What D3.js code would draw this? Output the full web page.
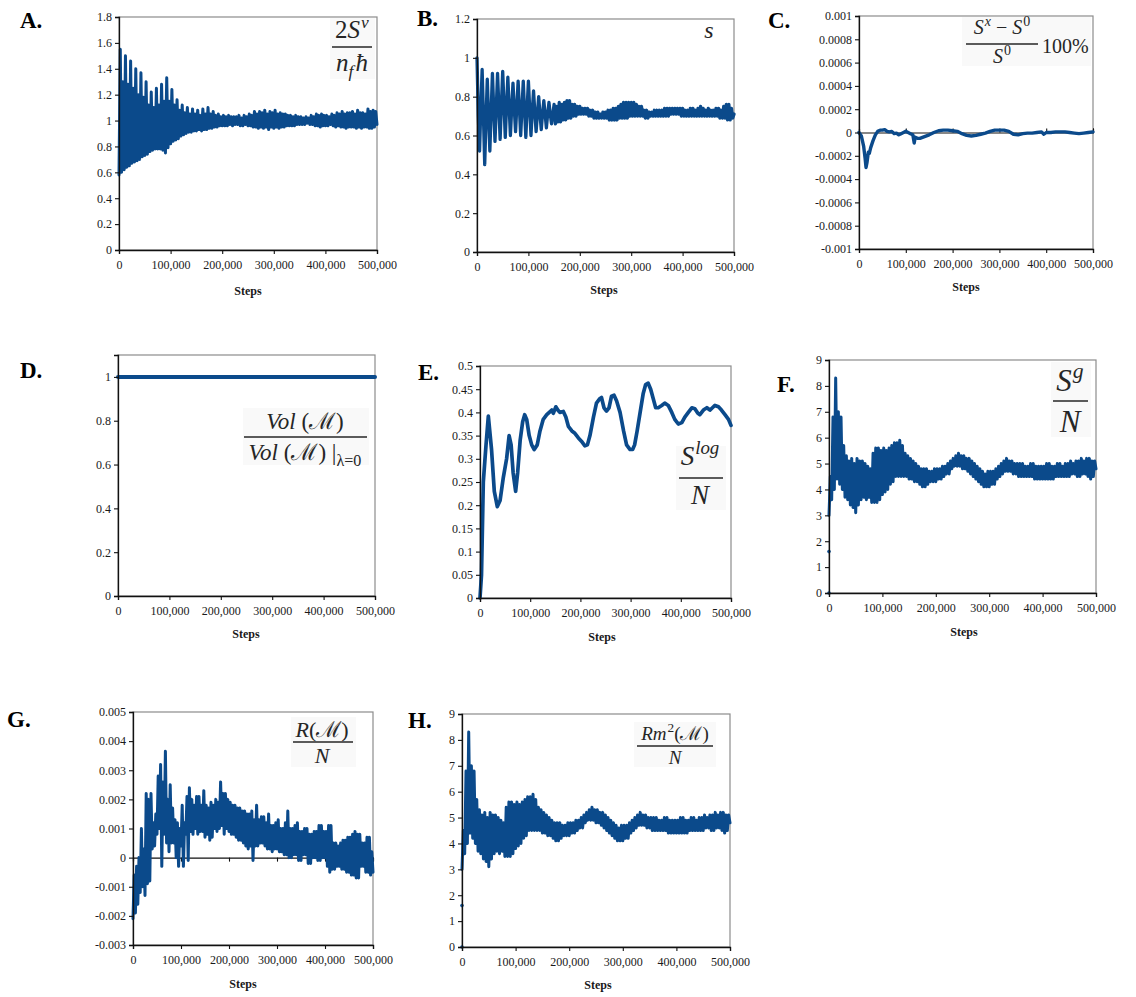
<!DOCTYPE html>
<html>
<head>
<meta charset="utf-8">
<script src="https://cdn.jsdelivr.net/npm/d3@7"></script>
<style>
body { margin: 0; background: #fff; }
</style>
</head>
<body>
<div id="chart-area"></div>
<script>
// ---- data ----
var stepGrid = d3.range(0, 500001, 2500);   // sampling of the oscillating runs
var xTicks = [0, 100000, 200000, 300000, 400000, 500000];

// A. 2S^v / (n_f hbar)
var svValues = [
  0.58,1.55,0.60,1.30, 0.62,1.50,0.64,1.28, 0.65,1.46,0.67,1.25, 0.68,1.40,0.69,1.20, 0.70,1.37,0.72,1.18,
  0.73,1.30,0.74,1.12, 0.76,1.22,0.77,1.10, 0.78,1.25,0.78,1.12, 0.78,1.28,0.77,1.15, 0.75,1.33,0.79,1.15,
  0.82,1.24,0.84,1.12, 0.85,1.16,0.86,1.08, 0.88,1.12,0.89,1.06, 0.90,1.10,0.91,1.05, 0.91,1.09,0.92,1.05,
  0.92,1.08,0.93,1.04, 0.92,1.09,0.93,1.05, 0.93,1.10,0.94,1.05, 0.94,1.07,0.95,1.04, 0.95,1.05,0.96,1.03,
  0.96,1.04,0.96,1.03, 0.96,1.04,0.97,1.03, 0.96,1.03,0.97,1.03, 0.97,1.04,0.96,1.02, 0.96,1.04,0.97,1.03,
  0.96,1.05,0.96,1.04, 0.95,1.07,0.95,1.05, 0.94,1.07,0.95,1.06, 0.94,1.08,0.95,1.05, 0.93,1.07,0.95,1.06,
  0.94,1.08,0.95,1.05, 0.94,1.06,0.95,1.05, 0.95,1.05,0.96,1.04, 0.96,1.04,0.96,1.03, 0.96,1.04,0.97,1.03,
  0.97,1.03,0.97,1.02, 0.97,1.03,0.98,1.02, 0.97,1.04,0.97,1.03, 0.96,1.05,0.96,1.04, 0.95,1.05,0.96,1.04,
  0.96,1.04,0.96,1.03, 0.97,1.05,0.96,1.04, 0.95,1.06,0.96,1.05, 0.95,1.07,0.95,1.05, 0.94,1.06,0.95,1.06,
  0.95,1.07,0.95,1.05, 0.94,1.08,0.95,1.06, 0.94,1.06,0.95,1.05, 0.95,1.09,0.94,1.07, 0.94,1.08,0.95,1.07,
  0.97];
var svTicks = [0, 0.2, 0.4, 0.6, 0.8, 1, 1.2, 1.4, 1.6, 1.8];

// B. s
var sValues = [
  1.00,0.70,0.52,0.75, 0.94,0.70,0.45,0.68, 0.89,0.70,0.52,0.72, 0.92,0.74,0.57,0.74, 0.92,0.75,0.58,0.76,
  0.93,0.76,0.59,0.75, 0.90,0.75,0.60,0.74, 0.87,0.74,0.62,0.75, 0.88,0.74,0.60,0.74, 0.88,0.73,0.59,0.74,
  0.88,0.74,0.60,0.72, 0.83,0.72,0.62,0.71, 0.80,0.71,0.63,0.71, 0.78,0.71,0.64,0.71, 0.77,0.71,0.66,0.71,
  0.76,0.66,0.75,0.67, 0.77,0.67,0.76,0.68, 0.77,0.68,0.78,0.69, 0.78,0.69,0.76,0.70, 0.76,0.70,0.75,0.71,
  0.75,0.71,0.74,0.71, 0.74,0.71,0.74,0.70, 0.73,0.70,0.73,0.69, 0.72,0.69,0.72,0.69, 0.71,0.69,0.72,0.69,
  0.72,0.69,0.73,0.68, 0.73,0.68,0.74,0.68, 0.74,0.68,0.75,0.69, 0.76,0.69,0.77,0.69, 0.77,0.69,0.77,0.70,
  0.77,0.70,0.77,0.70, 0.76,0.70,0.75,0.70, 0.75,0.70,0.73,0.69, 0.73,0.69,0.72,0.70, 0.72,0.70,0.73,0.70,
  0.73,0.70,0.73,0.70, 0.73,0.70,0.74,0.70, 0.74,0.70,0.74,0.71, 0.74,0.71,0.74,0.71, 0.74,0.71,0.74,0.70,
  0.74,0.70,0.73,0.70, 0.73,0.70,0.74,0.70, 0.74,0.70,0.73,0.70, 0.74,0.70,0.75,0.70, 0.74,0.70,0.73,0.70,
  0.74,0.70,0.73,0.70, 0.73,0.70,0.74,0.70, 0.74,0.69,0.73,0.69, 0.75,0.69,0.76,0.68, 0.76,0.68,0.74,0.69,
  0.71];
var sTicks = [0, 0.2, 0.4, 0.6, 0.8, 1, 1.2];

// C. (S^x - S^0)/S^0 100%
var cSteps = [0,5000,10000,13000,15000,17000,20000,22000,25000,30000,35000,40000,45000,50000,55000,60000,65000,70000,
  75000,80000,85000,90000,95000,100000,105000,110000,115000,118000,120000,125000,130000,140000,150000,160000,170000,
  180000,190000,200000,210000,220000,230000,240000,250000,260000,270000,280000,290000,300000,310000,320000,330000,
  340000,350000,360000,370000,380000,390000,395000,400000,410000,420000,430000,440000,450000,460000,470000,480000,
  490000,500000];
var cValues = [0,-0.00003,-0.00012,-0.00022,-0.0003,-0.00026,-0.00017,-0.00018,-0.00013,-0.00007,-0.00002,0.00001,
  0.00002,0.00002,0.000025,0.00001,0.000005,0.00001,-0.00001,-0.000005,-0.00002,-0.00001,0,0.00001,0,-0.00001,
  -0.00002,-0.00009,-0.00004,-0.00005,-0.00005,-0.000035,-0.00002,0,0.000015,0.00002,0.00002,0.000015,0.00001,
  -0.00001,-0.000025,-0.00003,-0.000025,-0.000015,-0.000005,0.00001,0.00002,0.00002,0.00002,0.00001,-0.000015,
  -0.00002,-0.00001,-0.000005,-0.000005,0,0.000005,-0.000015,0,0,0.000005,0.000005,0.000005,0,-0.000005,-0.00001,
  -0.000005,0,0.000005];
var cTicks = [-0.001, -0.0008, -0.0006, -0.0004, -0.0002, 0, 0.0002, 0.0004, 0.0006, 0.0008, 0.001];

// D. Vol(M) / Vol(M)|lambda=0
var dSteps = [0, 250000, 500000];
var dValues = [1, 1, 1];
var dTicks = [0, 0.2, 0.4, 0.6, 0.8, 1];

// E. S^log / N
var eSteps = [0,3000,6600,12000,16600,23000,28500,34500,40000,46500,53000,58000,62000,66000,71000,75000,80000,85000,
  89000,93000,98000,103000,108000,114000,119500,126000,133000,138000,143000,146000,151000,155000,159000,166000,
  171000,176000,183000,189000,196000,202000,209000,214000,219000,226000,232000,239000,242000,247000,252000,257000,
  262000,267000,272000,279000,286000,292000,299000,304000,308000,313000,319000,325000,330000,335000,340000,345000,
  350000,355000,362000,368000,375000,382000,388000,395000,402000,408000,415000,422000,428000,434000,438000,445000,
  452000,458000,463000,468000,475000,481000,488000,495000,500000];
var eValues = [0,0.05,0.25,0.33,0.392,0.32,0.23,0.197,0.21,0.26,0.30,0.35,0.33,0.27,0.23,0.27,0.34,0.38,0.395,0.385,
  0.35,0.33,0.32,0.33,0.36,0.385,0.395,0.40,0.405,0.398,0.412,0.405,0.40,0.402,0.39,0.37,0.36,0.355,0.345,0.338,
  0.328,0.33,0.35,0.39,0.42,0.43,0.432,0.41,0.403,0.41,0.435,0.437,0.425,0.40,0.36,0.33,0.32,0.32,0.33,0.36,0.40,
  0.44,0.46,0.463,0.45,0.43,0.41,0.41,0.415,0.42,0.415,0.40,0.385,0.375,0.378,0.39,0.40,0.41,0.408,0.398,0.395,
  0.405,0.41,0.405,0.41,0.415,0.412,0.405,0.395,0.385,0.372];
var eTicks = [0, 0.05, 0.1, 0.15, 0.2, 0.25, 0.3, 0.35, 0.4, 0.45, 0.5];

// F. S^g / N
var sgValues = [
  3.0,4.5,3.6,6.8, 4.0,8.3,4.4,7.0, 4.2,6.8,4.0,5.7, 3.7,5.3,3.6,5.1, 3.4,5.2,3.3,5.0,
  3.1,5.2,3.4,5.1, 3.6,5.1,3.7,5.0, 3.6,4.9,3.7,4.8, 3.5,5.4,3.5,5.6, 3.5,5.6,3.6,5.5,
  3.8,5.6,3.9,5.5, 4.0,5.6,4.2,5.7, 4.3,5.8,4.5,5.8, 4.5,5.9,4.5,5.7, 4.5,5.4,4.5,5.3,
  4.4,5.2,4.4,5.1, 4.3,5.0,4.3,4.9, 4.2,4.8,4.1,4.8, 4.1,4.8,4.2,4.7, 4.3,4.7,4.3,4.8,
  4.3,4.8,4.4,4.8, 4.4,4.9,4.5,4.9, 4.6,5.0,4.6,5.1, 4.8,5.2,4.9,5.3, 4.9,5.4,4.9,5.3,
  4.8,5.3,4.8,5.2, 4.7,5.2,4.6,5.1, 4.5,5.0,4.4,4.9, 4.3,4.8,4.2,4.7, 4.1,4.6,4.1,4.7,
  4.1,4.7,4.2,4.7, 4.2,4.8,4.4,4.9, 4.5,5.0,4.6,5.1, 4.7,5.2,4.7,5.1, 4.7,5.1,4.6,5.0,
  4.6,5.0,4.5,5.0, 4.5,5.0,4.5,4.9, 4.5,4.9,4.5,5.0, 4.5,5.0,4.4,4.9, 4.4,4.9,4.4,4.9,
  4.4,4.9,4.4,5.0, 4.4,5.0,4.4,4.9, 4.4,4.9,4.5,5.0, 4.5,5.0,4.5,4.9, 4.5,5.0,4.5,5.0,
  4.5,5.1,4.6,5.0, 4.6,5.1,4.5,5.1, 4.5,5.2,4.6,5.1, 4.6,5.2,4.5,5.2, 4.4,5.1,4.5,5.1,
  4.8];
var sgStartDots = [0, 1.6];
var sgTicks = [0, 1, 2, 3, 4, 5, 6, 7, 8, 9];

// G. R(M) / N, read in thousandths
var rValuesMilli = [
  -2.1,-0.6,-1.9,-0.3, -1.6,0.0,-1.2,1.0, -1.0,0.3,-1.3,2.2, -0.9,2.0,-0.8,2.2, 0.3,1.2,0.4,1.5,
  0.8,2.8,1.0,3.2, -0.3,2.6,0.8,3.65, 0.5,2.0,0.2,2.5, 0.5,1.7,0.5,1.3, 0.0,1.2,-0.3,1.0,
  0.4,1.8,-0.3,1.2, 0.8,2.1,-0.1,2.4, 0.9,2.0,0.8,1.8, 1.0,2.1,0.8,2.1, 0.9,1.8,0.9,2.3,
  0.7,1.8,0.8,1.7, 0.6,1.9,0.7,1.8, 1.0,2.0,0.9,1.9, 1.0,2.6,1.1,2.2, 0.8,2.2,1.0,2.0,
  0.9,1.9,0.8,1.8, 0.8,1.8,0.7,1.7, 0.6,1.7,0.6,1.6, 0.5,1.6,0.4,1.5, 0.3,1.5,0.4,1.6,
  -0.1,1.3,0.4,1.8, 0.4,1.3,0.5,1.4, 0.5,1.4,0.4,1.2, 0.3,1.5,0.3,1.1, 0.2,1.1,0.3,1.2,
  0.3,1.3,0.2,1.0, 0.2,1.0,0.1,1.2, 0.1,1.6,0.0,1.0, 0.0,1.0,0.1,1.1, 0.1,1.2,-0.1,0.9,
  -0.1,0.9,0.1,1.0, 0.1,1.0,-0.2,0.8, -0.2,0.8,0.0,0.9, 0.0,0.9,-0.1,1.1, -0.1,1.1,0.0,0.9,
  0.0,0.9,-0.3,1.1, -0.5,1.1,-0.4,0.5, -0.4,0.5,-0.3,0.4, -0.3,0.5,-0.4,0.6, -0.4,0.6,-0.5,0.7,
  -0.5,0.7,-0.6,0.8, -0.6,0.9,-0.7,0.8, -0.7,0.8,-0.3,0.5, -0.3,0.5,-0.5,0.7, -0.5,0.7,-0.6,0.2,
  -0.5];
var rValues = rValuesMilli.map(function(v) { return v / 1000; });
var rTicks = [-0.003, -0.002, -0.001, 0, 0.001, 0.002, 0.003, 0.004, 0.005];

// H. Rm^2(M) / N  (reads the same as F)
var rm2Values = sgValues;
var rm2StartDots = sgStartDots;
var rm2Ticks = [0, 1, 2, 3, 4, 5, 6, 7, 8, 9];

// ---- layout ----
var W = 1136, H = 997;
var blue = "#0b4a8b";
var serif = "'Liberation Serif', 'Times New Roman', serif";

var svg = d3.select("#chart-area").append("svg")
    .attr("width", W)
    .attr("height", H);

var panels = [
  { letter: "A.", lx: 20, ly: 28, box: [119, 17, 377, 250], steps: stepGrid, values: svValues, dom: [0, 1.8], ticks: svTicks, sw: 3.0, sx: 248, sy: 295 },
  { letter: "B.", lx: 417, ly: 26, box: [477, 19, 734, 252], steps: stepGrid, values: sValues, dom: [0, 1.2], ticks: sTicks, sw: 3.3, sx: 604, sy: 294 },
  { letter: "C.", lx: 768, ly: 28, box: [859, 16, 1093, 249], steps: cSteps, values: cValues, dom: [-0.001, 0.001], ticks: cTicks, sw: 3.4, sx: 966, sy: 291, zero: -1 },
  { letter: "D.", lx: 20, ly: 378, box: [118, 355, 375, 596], steps: dSteps, values: dValues, dom: [0, 1.1], ticks: dTicks, sw: 4, sx: 246, sy: 638 },
  { letter: "E.", lx: 418, ly: 380, box: [480, 366, 731, 598], steps: eSteps, values: eValues, dom: [0, 0.5], ticks: eTicks, sw: 3.7, sx: 602, sy: 641 },
  { letter: "F.", lx: 777, ly: 392, box: [829, 360, 1096, 593], steps: stepGrid, values: sgValues, dots: sgStartDots, dom: [0, 9], ticks: sgTicks, sw: 3.0, sx: 964, sy: 636 },
  { letter: "G.", lx: 7, ly: 727, box: [133, 712, 373, 945], steps: stepGrid, values: rValues, dom: [-0.003, 0.005], ticks: rTicks, sw: 3.0, sx: 243, sy: 988, zero: 1 },
  { letter: "H.", lx: 408, ly: 728, box: [462, 714, 730, 947], steps: stepGrid, values: rm2Values, dots: rm2StartDots, dom: [0, 9], ticks: rm2Ticks, sw: 3.0, sx: 598, sy: 989 }
];

function fmtTick(d) { return String(+d.toFixed(6)); }

function styleAxis(g) {
    g.attr("font-family", serif).attr("font-size", 12);
    g.select(".domain").attr("stroke", "#111").attr("stroke-width", 1.3);
    g.selectAll(".tick line").attr("stroke", "#111").attr("stroke-width", 1.1);
    g.selectAll(".tick text").attr("fill", "#1a1a1a").style("font-family", serif);
}

panels.forEach(function(p) {
    var x = d3.scaleLinear().domain([0, 500000]).range([p.box[0], p.box[2]]);
    var y = d3.scaleLinear().domain(p.dom).range([p.box[3], p.box[1]]);
    var g = svg.append("g");

    // grey frame (top / right)
    g.append("rect")
        .attr("x", p.box[0]).attr("y", p.box[1])
        .attr("width", p.box[2] - p.box[0]).attr("height", p.box[3] - p.box[1])
        .attr("fill", "none").attr("stroke", "#8c8c8c").attr("stroke-width", 1.2);

    // zero line with its ticks (C and G)
    if (p.zero) {
        var z = g.append("g")
            .attr("transform", "translate(0," + y(0) + ")")
            .call(d3.axisBottom(x).tickValues(xTicks).tickSize(4 * p.zero).tickFormat(""));
        styleAxis(z);
        z.select(".domain").attr("stroke-width", 1.1);
    }

    var line = d3.line()
        .x(function(d, i) { return x(p.steps[i]); })
        .y(function(d) { return y(d); });

    g.append("path")
        .datum(p.values)
        .attr("d", line)
        .attr("fill", "none")
        .attr("stroke", blue)
        .attr("stroke-width", p.sw)
        .attr("stroke-linejoin", "round")
        .attr("stroke-linecap", "round");

    if (p.dots) {
        g.selectAll(".dot").data(p.dots).enter().append("circle")
            .attr("cx", x(0)).attr("cy", function(d) { return y(d); })
            .attr("r", 1.8).attr("fill", blue);
    }

    var ya = g.append("g")
        .attr("transform", "translate(" + p.box[0] + ",0)")
        .call(d3.axisLeft(y).tickValues(p.ticks).tickSize(4).tickPadding(3).tickFormat(fmtTick));
    styleAxis(ya);

    var xa = g.append("g")
        .attr("transform", "translate(0," + p.box[3] + ")")
        .call(d3.axisBottom(x).tickValues(xTicks).tickSize(4).tickPadding(6).tickFormat(d3.format(",")));
    styleAxis(xa);

    g.append("text")
        .attr("x", p.sx).attr("y", p.sy)
        .attr("text-anchor", "middle")
        .attr("font-family", serif).attr("font-weight", "bold").attr("font-size", 12)
        .attr("fill", "#1a1a1a")
        .text("Steps");

    svg.append("text")
        .attr("x", p.lx).attr("y", p.ly)
        .attr("font-family", serif).attr("font-weight", "bold").attr("font-size", 23)
        .attr("fill", "#000")
        .text(p.letter);
});

// ---- formula labels ----
function mathText(x, y, size, parts, anchor) {
    var t = svg.append("text")
        .attr("x", x).attr("y", y)
        .attr("font-size", size)
        .attr("font-family", serif)
        .attr("text-anchor", anchor || "middle")
        .attr("fill", "#262626");
    var shift = 0;
    parts.forEach(function(p) {
        var s = t.append("tspan").text(p[0]);
        var f = p[1] || "";
        if (f.indexOf("i") >= 0) s.attr("font-style", "italic");
        var target = f.indexOf("^") >= 0 ? -0.42 * size : (f.indexOf("_") >= 0 ? 0.25 * size : 0);
        if (target !== shift) { s.attr("dy", target - shift); shift = target; }
        if (target !== 0) s.attr("font-size", size * 0.7);
        if (p[2]) s.attr("dx", p[2]);
    });
}

function fracBar(x0, x1, yy, w) {
    svg.append("line")
        .attr("x1", x0).attr("x2", x1).attr("y1", yy).attr("y2", yy)
        .attr("stroke", "#262626").attr("stroke-width", w || 1.3);
}

function labelBox(x0, y0, x1, y1) {
    svg.append("rect")
        .attr("x", x0).attr("y", y0).attr("width", x1 - x0).attr("height", y1 - y0)
        .attr("fill", "#f9f9f9");
}

// A
labelBox(330, 18, 375, 79);
mathText(352, 38, 25, [["2"], ["S", "i"], ["v", "i^", 1]]);
fracBar(332, 372, 47);
mathText(352, 71, 25, [["n", "i"], ["f", "i_"], ["ħ", "i", 2]]);

// B
mathText(709, 38, 24, [["s", "i"]]);

// C
labelBox(962, 17, 1091, 66);
mathText(1002, 34, 20, [["S", "i"], ["x", "i^", 1], [" − "], ["S", "i"], ["0", "^", 1]]);
fracBar(966, 1038, 44);
mathText(1002, 63, 20, [["S", "i"], ["0", "^", 1]]);
mathText(1042, 53, 20, [["100%"]], "start");

// D
labelBox(243, 408, 369, 465);
mathText(305, 429, 23, [["Vol", "i"], [" ("], ["ℳ"], [")"]]);
fracBar(244, 367, 437);
mathText(305, 460, 23, [["Vol", "i"], [" ("], ["ℳ"], [")"], [" |"], ["λ=0", "_"]]);

// E
labelBox(676, 446, 726, 510);
mathText(700, 465, 27, [["S", "i"], ["log", "i^", 1]]);
fracBar(679, 723, 478);
mathText(700, 504, 27, [["N", "i"]]);

// F
labelBox(1051, 362, 1091, 437);
mathText(1070, 391, 31, [["S", "i"], ["g", "i^", 1]]);
fracBar(1053, 1088, 401, 1.5);
mathText(1070, 432, 31, [["N", "i"]]);

// G
labelBox(291, 717, 356, 767);
mathText(322, 737, 22, [["R", "i"], ["("], ["ℳ"], [")"]]);
fracBar(293, 353, 742);
mathText(322, 763, 22, [["N", "i"]]);

// H
labelBox(634, 722, 716, 767);
mathText(675, 740, 19, [["Rm", "i"], ["2", "^", 1], ["("], ["ℳ"], [")"]]);
fracBar(637, 713, 746);
mathText(675, 764, 19, [["N", "i"]]);
</script>
</body>
</html>
